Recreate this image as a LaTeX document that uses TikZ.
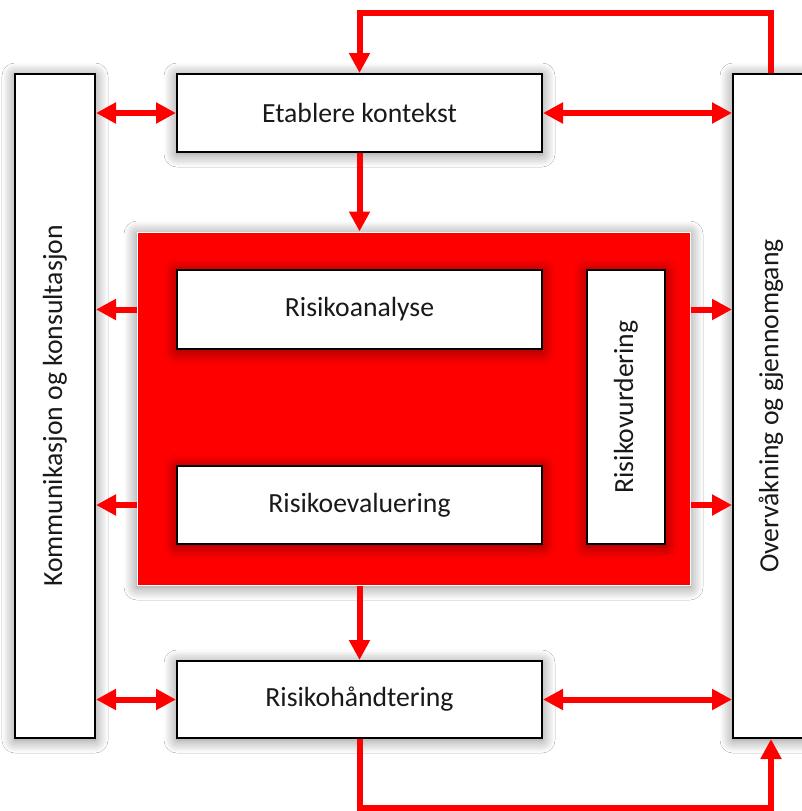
\documentclass[tikz,border=0pt]{standalone}
\usepackage{fontspec}
\setmainfont{Carlito}
\usetikzlibrary{arrows.meta,shadows.blur}
\begin{document}
\begin{tikzpicture}[x=1pt,y=-1pt,
  glow/.style={blur shadow={shadow xshift=0pt, shadow yshift=-2pt, shadow blur radius=13pt, shadow blur steps=8, shadow opacity=50}},
  box/.style={draw=black, line width=2pt, fill=white, inner sep=0pt, glow},
  redbox/.style={draw=white, line width=1pt, fill=red, inner sep=0pt, glow},
  lbl/.style={font=\fontsize{27.7}{33}\selectfont, text=black!90, inner sep=0pt},
  tip/.tip={Triangle[length=20pt,width=20pt]},
  sgl/.style={draw=red, line width=6pt, line join=miter, -tip},
  dbl/.style={draw=red, line width=6pt, tip-tip}
]
\clip (0,0) rectangle (802,811);
\fill[white] (0,0) rectangle (802,811);

% boxes
\node[box, minimum width=80pt, minimum height=664pt] (komm) at (55,406) {};
\node[box, minimum width=78pt, minimum height=664pt] (ov) at (772,406) {};
\node[redbox, minimum width=553pt, minimum height=353pt] (red) at (413.5,408.5) {};
\node[box, minimum width=365pt, minimum height=78pt] (etab) at (359.5,113) {};
\node[box, minimum width=365pt, minimum height=79pt] (ana) at (359.5,309.5) {};
\node[box, minimum width=365pt, minimum height=78pt] (eval) at (359.5,505) {};
\node[box, minimum width=78pt, minimum height=274pt] (vurd) at (626,407) {};
\node[box, minimum width=365pt, minimum height=77pt] (hand) at (359.5,699.5) {};

% texts
\node[lbl, rotate=90] (kommT) at (komm.center) {Kommunikasjon og konsultasjon};
\node[lbl, rotate=90] (ovT) at ([xshift=-1pt]ov.center) {Overvåkning og gjennomgang};
\node[lbl, rotate=90] (vurdT) at (vurd.center) {Risikovurdering};
\node[lbl] (etabT) at (etab.center) {Etablere kontekst};
\node[lbl] (anaT) at (ana.center) {Risikoanalyse};
\node[lbl] (evalT) at (eval.center) {Risikoevaluering};
\node[lbl] (handT) at (hand.center) {Risikohåndtering};

% loop coordinates
\coordinate (tr) at (771,13);
\coordinate (br) at (771,808);

% connectors
\draw[dbl] (etab.west -| komm.east) -- (etab.west);
\draw[dbl] (etab.east) -- (etab.east -| ov.west);
\draw[dbl] (hand.west -| komm.east) -- (hand.west);
\draw[dbl] (hand.east) -- (hand.east -| ov.west);
\draw[sgl] (etab.south) -- (etab.south |- red.north);
\draw[sgl] (hand.north |- red.south) -- (hand.north);
\draw[sgl] (ana.west -| red.west) -- (ana.west -| komm.east);
\draw[sgl] (eval.west -| red.west) -- (eval.west -| komm.east);
\draw[sgl] (ana.east -| red.east) -- (ana.east -| ov.west);
\draw[sgl] (eval.east -| red.east) -- (eval.east -| ov.west);
\draw[sgl] (ov.north -| tr) -- (tr) -| (etab.north);
\draw[sgl] (hand.south) |- (br) -- (ov.south -| br);
\end{tikzpicture}
\end{document}
